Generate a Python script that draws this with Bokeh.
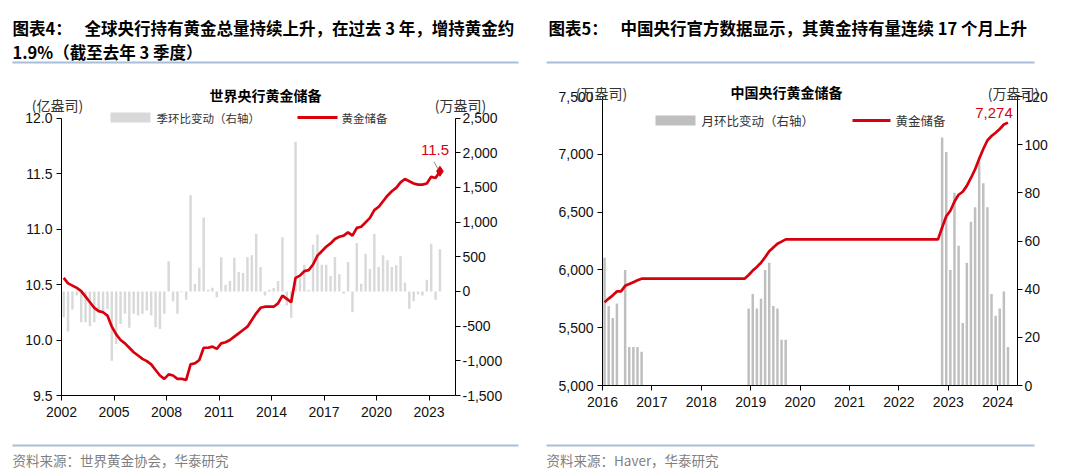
from bokeh.plotting import figure
from bokeh.models import Range1d, LinearAxis, FixedTicker, NumeralTickFormatter, Label
from bokeh.layouts import row, column
from bokeh.embed import file_html
from bokeh.resources import INLINE
from bokeh.core.properties import value

# ---------------- Left chart: world central bank gold (quarterly 2002Q1-2023Q3) ----------------
world_year = [y for y in range(2002, 2024) for _ in range(4)][:87]
world_quarter = [q for _ in range(2002, 2024) for q in (1, 2, 3, 4)][:87]
# gold reserves, 100 million oz (left axis)
world_reserve = [
    10.56, 10.51, 10.49, 10.47, 10.44, 10.39, 10.34, 10.29, 10.26, 10.25, 10.22, 10.12,
    10.05, 10.00, 9.97, 9.93, 9.89, 9.86, 9.83, 9.81, 9.78, 9.73, 9.68, 9.65,
    9.69, 9.68, 9.65, 9.65, 9.64, 9.78, 9.79, 9.82, 9.93, 9.93, 9.94, 9.92,
    9.97, 9.98, 10.00, 10.03, 10.06, 10.09, 10.12, 10.18, 10.24, 10.29, 10.30, 10.30,
    10.30, 10.33, 10.40, 10.37, 10.34, 10.56, 10.58, 10.62, 10.63, 10.68, 10.76, 10.80,
    10.84, 10.87, 10.91, 10.93, 10.94, 10.97, 10.94, 11.01, 11.02, 11.06, 11.10, 11.17,
    11.20, 11.25, 11.30, 11.34, 11.37, 11.42, 11.45, 11.43, 11.41, 11.40, 11.40, 11.41,
    11.47, 11.46, 11.52,
]
# quarter-on-quarter change, 10k oz (right axis)
world_change = [
    -371, -578, -260, -60, -443, -443, -501, -443, -299, -284, -250, -998,
    -757, -468, -323, -525, -323, -347, -323, -275, -347, -516, -540, -323,
    434, -140, -323, -10, -120, 1388, 111, 342, 1065, 24, 53, -82,
    492, 96, 149, 487, 280, 265, 496, 521, 829, 352, -58, 24,
    48, 149, 781, -202, -381, 2159, 190, 386, 24, 675, 819, 386,
    386, 222, 496, 246, -34, 424, -299, 699, 111, 545, 323, 829,
    352, 521, 448, 352, 376, 506, 130, -251, -140, -40, -58, 169,
    689, -120, 607,
]
world_xticks = [2002, 2005, 2008, 2011, 2014, 2017, 2020, 2023]
world_lticks = [9.5, 10.0, 10.5, 11.0, 11.5, 12.0]
world_rticks = [-1500, -1000, -500, 0, 500, 1000, 1500, 2000, 2500]

# ---------------- Right chart: PBoC gold (monthly Jan 2016 - Mar 2024) ----------------
china_year = [y for y in range(2016, 2025) for _ in range(12)][:99]
china_month = [m for _ in range(2016, 2025) for m in range(1, 13)][:99]
# gold reserves, 10k oz (left axis)
china_reserve = [
    5719, 5752, 5780, 5814, 5814, 5862, 5878, 5894, 5910, 5924, 5924, 5924,
    5924, 5924, 5924, 5924, 5924, 5924, 5924, 5924, 5924, 5924, 5924, 5924,
    5924, 5924, 5924, 5924, 5924, 5924, 5924, 5924, 5924, 5924, 5924, 5956,
    5994, 6026, 6062, 6110, 6161, 6194, 6226, 6245, 6264, 6264, 6264, 6264,
    6264, 6264, 6264, 6264, 6264, 6264, 6264, 6264, 6264, 6264, 6264, 6264,
    6264, 6264, 6264, 6264, 6264, 6264, 6264, 6264, 6264, 6264, 6264, 6264,
    6264, 6264, 6264, 6264, 6264, 6264, 6264, 6264, 6264, 6264, 6367, 6464,
    6512, 6592, 6650, 6676, 6727, 6795, 6869, 6962, 7046, 7120, 7158, 7187,
    7219, 7258, 7274,
]
# month-on-month change, 10k oz (right axis)
china_change = [
    53, 33, 28, 34, 0, 48, 16, 16, 16, 14, 0, 0,
    0, 0, 0, 0, 0, 0, 0, 0, 0, 0, 0, 0,
    0, 0, 0, 0, 0, 0, 0, 0, 0, 0, 0, 32,
    38, 32, 36, 48, 51, 33, 32, 19, 19, 0, 0, 0,
    0, 0, 0, 0, 0, 0, 0, 0, 0, 0, 0, 0,
    0, 0, 0, 0, 0, 0, 0, 0, 0, 0, 0, 0,
    0, 0, 0, 0, 0, 0, 0, 0, 0, 0, 103, 97,
    48, 80, 58, 26, 51, 68, 74, 93, 84, 74, 38, 29,
    32, 39, 16,
]
china_xticks = list(range(2016, 2025))
china_lticks = [5000, 5500, 6000, 6500, 7000, 7500]
china_rticks = [0, 20, 40, 60, 80, 100, 120]

# ---------------- texts ----------------
title4_head = "图表4："
title4_main = "全球央行持有黄金总量持续上升，在过去 3 年，增持黄金约"
title4_line2 = "1.9%（截至去年 3 季度）"
title5_head = "图表5："
title5_main = "中国央行官方数据显示，其黄金持有量连续 17 个月上升"
inner_left = "世界央行黄金储备"
inner_right = "中国央行黄金储备"
unit_100m = "(亿盎司)"
unit_10k = "(万盎司)"
legend_left_bar = "季环比变动（右轴）"
legend_right_bar = "月环比变动（右轴）"
legend_line = "黄金储备"
source_left = "资料来源：世界黄金协会，华泰研究"
source_right = "资料来源：Haver，华泰研究"

RED = "#D9000D"
RULE = "#A9BED8"
TICK_FONT = "Liberation Sans"
CJK = "Noto Sans CJK SC"
PAGE_W, PAGE_H = 1080, 476
TOP = 96          # common frame top (page px)
BOTTOM_B = 81     # common bottom border


def style_axis(ax, standoff=4):
    ax.axis_line_color = "black"
    ax.axis_line_width = 1
    ax.major_tick_line_color = "black"
    ax.major_tick_out = 5
    ax.major_tick_in = 0
    ax.minor_tick_line_color = None
    ax.major_label_text_font = TICK_FONT
    ax.major_label_text_font_size = "14px"
    ax.major_label_text_color = "#111111"
    ax.major_label_standoff = standoff


def make_fig(width, height, left, right, xr, yr):
    p = figure(width=width, height=height, output_backend="svg", toolbar_location=None,
               x_range=xr, y_range=yr,
               min_border_left=left, min_border_right=right,
               min_border_top=TOP, min_border_bottom=BOTTOM_B)
    p.xgrid.visible = False
    p.ygrid.visible = False
    p.outline_line_color = None
    p.background_fill_color = None
    p.border_fill_color = None
    return p


# ================= LEFT FIGURE =================
# plot geometry (page px): x axis 2002 at 61, right axis at 455; 12.0 at 117.5, 9.5 at 395
L_W = 540
L_LEFT, L_RIGHT_PX = 61, 455
L_TOPTICK, L_BOT = 117.5, 395
px_per_unit = (L_BOT - L_TOPTICK) / (world_lticks[-1] - world_lticks[0])
px_per_chg = (L_BOT - L_TOPTICK) / (world_rticks[-1] - world_rticks[0])
ext = L_TOPTICK - TOP
ppy_l = 17.5
p1 = make_fig(L_W, L_BOT + BOTTOM_B, L_LEFT, L_W - L_RIGHT_PX,
              Range1d(2002.0, 2002.0 + (L_RIGHT_PX - L_LEFT) / ppy_l),
              Range1d(world_lticks[0], world_lticks[-1] + ext / px_per_unit))
p1.extra_y_ranges = {"chg": Range1d(world_rticks[0], world_rticks[-1] + ext / px_per_chg)}

wx = [y + (q - 1) / 4 + 0.125 for y, q in zip(world_year, world_quarter)]
p1.vbar(x=wx, top=world_change, bottom=0, width=0.14, y_range_name="chg",
        fill_color="#D9D9D9", line_color=None)
p1.line(wx, world_reserve, line_color=RED, line_width=2.7)
p1.scatter([wx[-1]], [world_reserve[-1]], marker="diamond", size=10, color=RED)
p1.segment(x0=[wx[-1] - 6 / ppy_l], y0=[world_reserve[-1] + 9.5 / px_per_unit],
           x1=[wx[-1] - 2 / ppy_l], y1=[world_reserve[-1] + 2.5 / px_per_unit],
           line_color="#8C8C8C", line_width=1)
p1.add_layout(Label(x=wx[-1], y=world_reserve[-1], text=f"{world_reserve[-1]:.1f}",
                    x_offset=-5, y_offset=21, text_align="center", text_baseline="middle",
                    text_font=TICK_FONT, text_font_size="15px", text_color=RED))

p1.xaxis.ticker = FixedTicker(ticks=world_xticks)
p1.yaxis.ticker = FixedTicker(ticks=world_lticks)
p1.yaxis.formatter = NumeralTickFormatter(format="0.0")
p1.yaxis.bounds = (world_lticks[0], world_lticks[-1])
ax_r1 = LinearAxis(y_range_name="chg", ticker=FixedTicker(ticks=world_rticks),
                   formatter=NumeralTickFormatter(format="0,0"),
                   bounds=(world_rticks[0], world_rticks[-1]))
p1.add_layout(ax_r1, "right")
style_axis(p1.xaxis[0], 6)
style_axis(p1.yaxis[0], 4)
style_axis(ax_r1, 2)

# ================= RIGHT FIGURE =================
# plot geometry (page px): 2016 at 602, right axis at 1017; 7500 at 96, 5000 at 385
R_X0 = 540
R_LEFT, R_RIGHT_PX = 602, 1017
R_BOT = 385
ppy_r = 49.4
p2 = make_fig(PAGE_W - R_X0, R_BOT + BOTTOM_B, R_LEFT - R_X0, PAGE_W - R_RIGHT_PX,
              Range1d(2016.0, 2016.0 + (R_RIGHT_PX - R_LEFT) / ppy_r),
              Range1d(china_lticks[0], china_lticks[-1]))
p2.extra_y_ranges = {"chg": Range1d(china_rticks[0], china_rticks[-1])}

cx = [y + (m - 0.5) / 12 for y, m in zip(china_year, china_month)]
p2.vbar(x=cx, top=china_change, bottom=0, width=0.05, y_range_name="chg",
        fill_color="#BFBFBF", line_color=None)
p2.line(cx, china_reserve, line_color=RED, line_width=2.7)
p2.add_layout(Label(x=cx[-1], y=china_reserve[-1], text=f"{china_reserve[-1]:,}",
                    x_offset=-14, y_offset=10, text_align="center", text_baseline="middle",
                    text_font=TICK_FONT, text_font_size="15px", text_color=RED))

p2.xaxis.ticker = FixedTicker(ticks=china_xticks)
p2.yaxis.ticker = FixedTicker(ticks=china_lticks)
p2.yaxis.formatter = NumeralTickFormatter(format="0,0")
ax_r2 = LinearAxis(y_range_name="chg", ticker=FixedTicker(ticks=china_rticks))
p2.add_layout(ax_r2, "right")
style_axis(p2.xaxis[0], 6)
style_axis(p2.yaxis[0], 4)
style_axis(ax_r2, 2)

# ================= OVERLAY (titles, units, legends, sources) =================
bg = figure(width=PAGE_W, height=PAGE_H, x_range=Range1d(0, PAGE_W), y_range=Range1d(PAGE_H, 0),
            min_border=0, x_axis_location=None, y_axis_location=None,
            toolbar_location=None, output_backend="svg")
bg.outline_line_color = None
bg.background_fill_color = None
bg.border_fill_color = None
bg.grid.visible = False
bg.margin = (-PAGE_H, 0, 0, 0)


def texts(xs, ys, ts, size, color="#000000", style="normal", align="left"):
    bg.text(x=xs, y=ys, text=ts, text_font=value(CJK), text_font_size=size,
            text_color=color, text_font_style=style, text_align=align, text_baseline="middle")


texts([12, 84, 12, 548, 620], [27, 27, 51, 27, 27],
      [title4_head, title4_main, title4_line2, title5_head, title5_main], "16.5px", style="bold")
texts([265, 786], [94, 91], [inner_left, inner_right], "14px", style="bold", align="center")
texts([57, 460, 601, 1013], [104, 104, 92, 92], [unit_100m, unit_10k, unit_10k, unit_10k],
      "14px", color="#333333", align="center")
texts([156, 341], [117, 117], [legend_left_bar, legend_line], "11.5px", color="#333333")
texts([701, 895], [120, 120], [legend_right_bar, legend_line], "12.5px", color="#333333")
texts([12, 546], [459, 459], [source_left, source_right], "13.5px", color="#7F7F7F")

# rules
bg.segment(x0=[12, 546, 12, 546], x1=[518, 1034, 518, 1034], y0=[62, 62, 445, 445],
           y1=[62, 62, 445, 445], line_color=RULE, line_width=2)
# legend swatches
bg.quad(left=[110, 655], right=[150, 695], top=[112, 115], bottom=[122, 125],
        fill_color=["#D9D9D9", "#BFBFBF"], line_color=None)
bg.segment(x0=[297, 852], x1=[337, 890], y0=[117, 120], y1=[117, 120],
           line_color=RED, line_width=3)

layout = column(row(p1, p2), bg)
open("out.html", "w").write(file_html(layout, INLINE))
